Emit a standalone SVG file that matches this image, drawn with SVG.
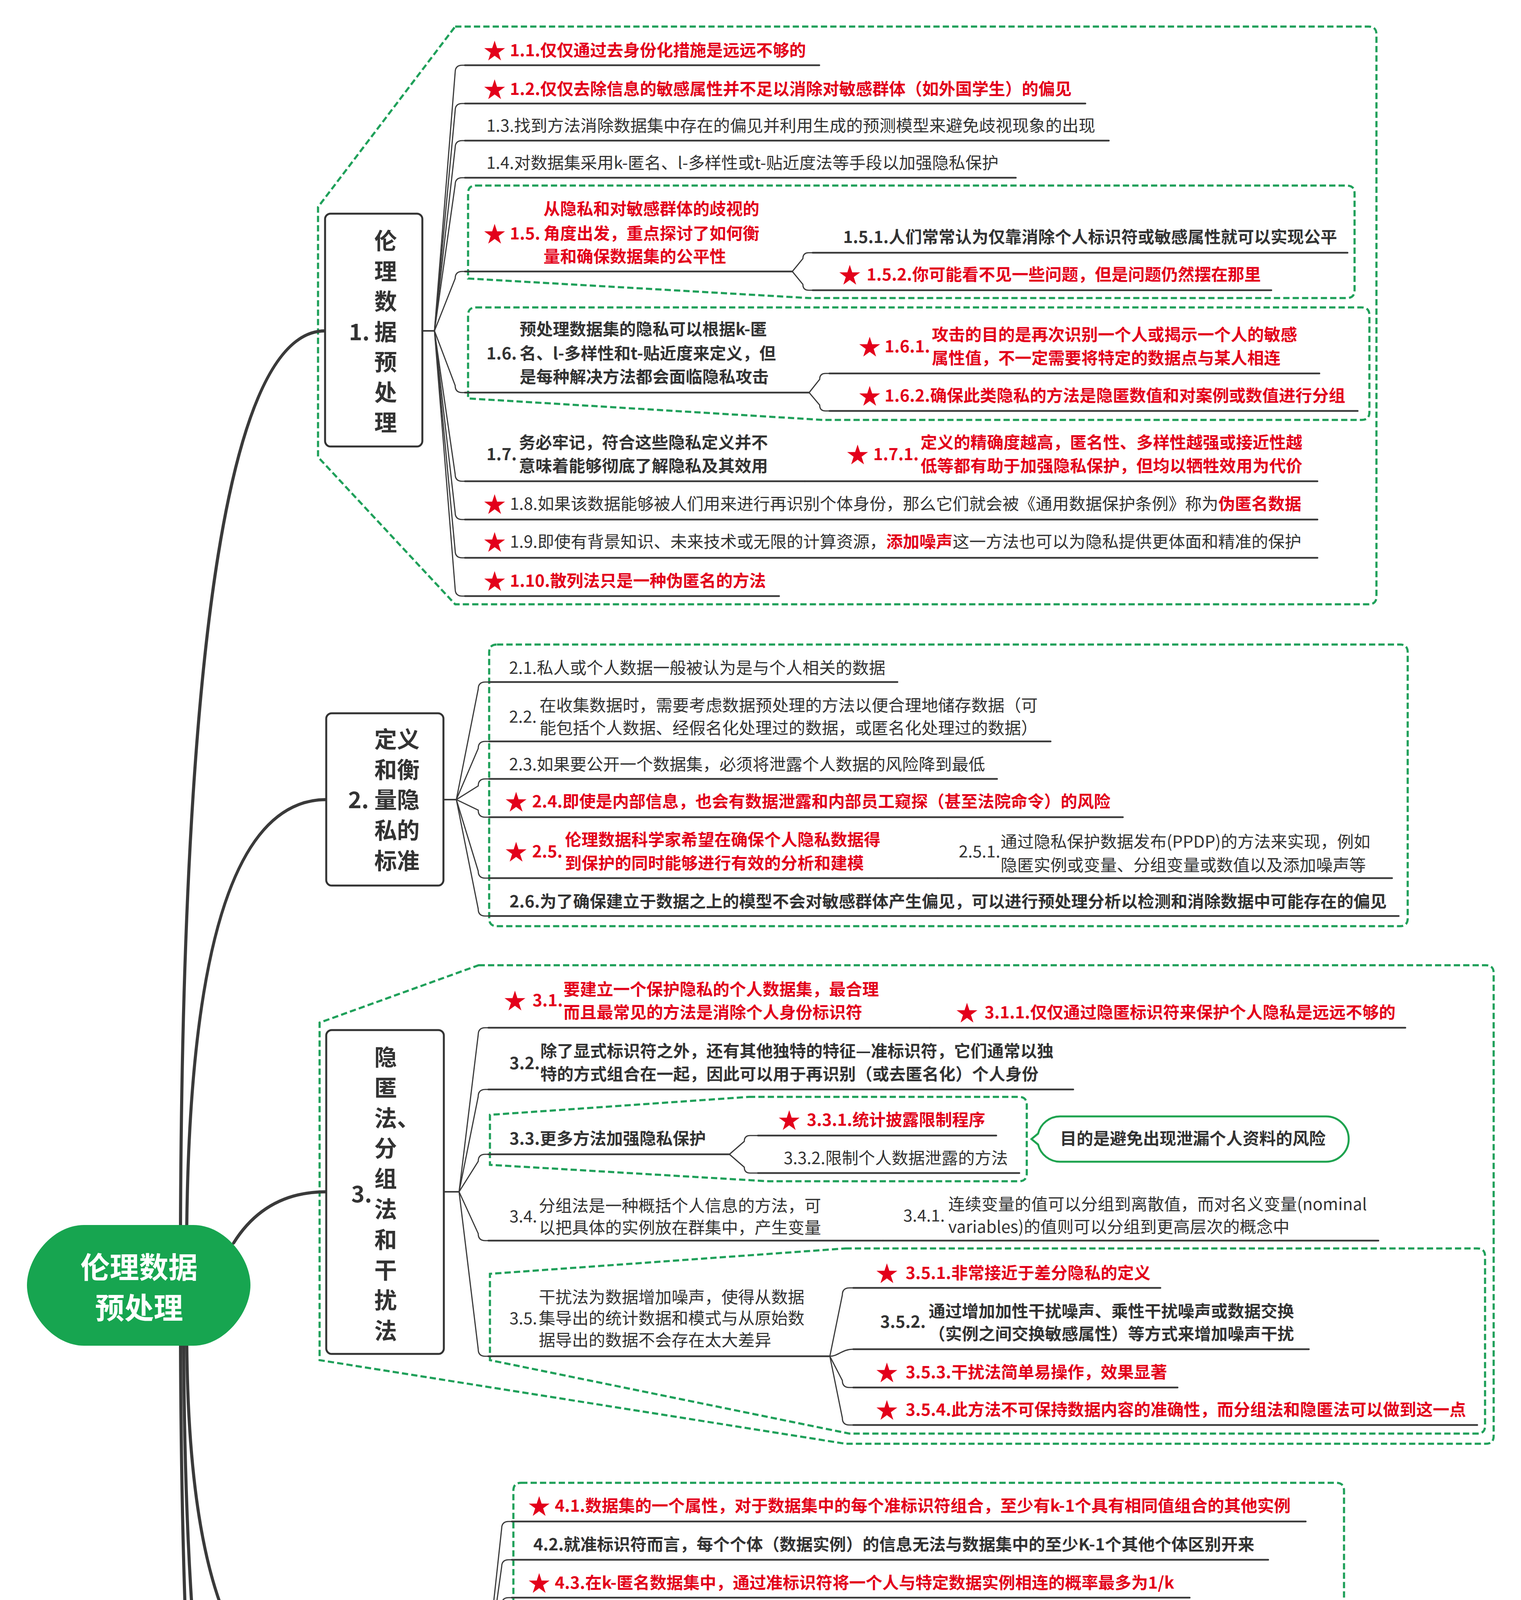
<svg xmlns="http://www.w3.org/2000/svg" xmlns:xlink="http://www.w3.org/1999/xlink" width="3893" height="6097" viewBox="0 0 3893 6097">
<defs>
<style>
text{font-family:"Noto Sans CJK SC","Noto Sans",sans-serif;}
.t{font-size:42.5px;fill:#333;}
.b{font-size:42.5px;font-weight:bold;fill:#333;}
.r{font-size:42.5px;font-weight:bold;fill:#e3001b;}
.tr{font-weight:bold;fill:#e3001b;}
.tn{font-weight:normal;fill:#333;}
.bt{font-size:58px;font-weight:bold;fill:#333;}
.bx{fill:#fff;stroke:#333;stroke-width:5;}
.ul{stroke:#3a3a3a;stroke-width:4.5;fill:none;stroke-linecap:round;}
.cn{stroke:#3a3a3a;stroke-width:3;fill:none;}
.mc{stroke:#3a3a3a;stroke-width:8;fill:none;stroke-linecap:round;}
.bd{fill:none;stroke:#1fa05a;stroke-width:5.5;stroke-dasharray:16 8;}
</style>
<path id="star" d="M0,-28 L6.29,-8.66 L26.63,-8.65 L10.18,3.31 L16.46,22.65 L0,10.7 L-16.46,22.65 L-10.18,3.31 L-26.63,-8.65 L-6.29,-8.66 Z" fill="#e3001b"/>
</defs>
<rect width="3893" height="6097" fill="#fff"/>
<text x="3476" y="5985" font-size="150" fill="#f3f3f3" stroke="#e2e2e2" stroke-width="2" style="font-family:'Noto Sans CJK SC',sans-serif">躺柒</text>

<g id="boundaries">
<path class="bd" d="M1165,68 H3503 Q3523,68 3523,88 V1527 Q3523,1547 3503,1547 H1165 L814,1170 V530 Z"/>
<path class="bd" d="M1218,475 H3447 Q3467,475 3467,495 V743 Q3467,763 3447,763 H2071 L1198,713 V495 Q1198,475 1218,475 Z"/>
<path class="bd" d="M1218,787 H3485 Q3505,787 3505,807 V1055 Q3505,1075 3485,1075 H2106 L1198,1020 V807 Q1198,787 1218,787 Z"/>
<path class="bd" d="M1272,1650 H3583 Q3603,1650 3603,1670 V2351 Q3603,2371 3583,2371 H1272 Q1252,2371 1252,2351 V1670 Q1252,1650 1272,1650 Z"/>
<path class="bd" d="M1225,2471 H3803 Q3823,2471 3823,2491 V3676 Q3823,3696 3803,3696 H2164 L818,3482 V2618 Z"/>
<path class="bd" d="M1917,2808 H2608 Q2628,2808 2628,2828 V3004 Q2628,3024 2608,3024 H1966 L1254,2982 V2854 Z"/>
<path class="bd" d="M2164,3196 H3781 Q3801,3196 3801,3216 V3650 Q3801,3670 3781,3670 H2174 L1254,3482 V3261 Z"/>
<path class="bd" d="M1334,3796 H3420 Q3440,3796 3440,3816 V4814 Q3440,4834 3420,4834 H1334 Q1314,4834 1314,4814 V3816 Q1314,3796 1334,3796 Z"/>
<path class="bd" d="M1400,4937 H2654 Q2674,4937 2674,4957 V5239 Q2674,5259 2654,5259 H838 Q818,5259 818,5239 V5007 Z"/>
<path class="bd" d="M1780,5393 H3395 Q3415,5393 3415,5413 V6010 Q3415,6030 3395,6030 H1779 L1391,5951 V5445 Z"/>
<path class="bd" d="M1702,5408 H3369 Q3389,5408 3389,5428 V5637 Q3389,5657 3369,5657 H1813 L1414,5578 V5462 Z"/>
<path class="bd" d="M1804,5676 H3153 Q3173,5676 3173,5696 V5987 Q3173,6007 3153,6007 H1813 L1414,5931 V5815 Z"/>
</g>

<g id="connectors">
<path class="mc" d="M462,3140 Q470,847 832,847"/>
<path class="mc" d="M478,3140 Q490,2047 835,2047"/>
<path class="mc" d="M598,3182 Q680,3051 835,3051"/>
<path class="mc" d="M478,3440 Q486,4354 835,4354"/>
<path class="mc" d="M470,3440 Q478,5132 835,5132"/>
<path class="mc" d="M462,3440 Q470,5733 835,5733"/>

<path class="cn" d="M1081,847 H1112 L1165,185 Q1165,167 1183,167 H1192"/>
<path class="cn" d="M1081,847 H1112 L1165,283 Q1165,265 1183,265 H1192"/>
<path class="cn" d="M1081,847 H1112 L1165,378 Q1165,360 1183,360 H1192"/>
<path class="cn" d="M1081,847 H1112 L1165,473 Q1165,455 1183,455 H1192"/>
<path class="cn" d="M1081,847 H1112 L1165,713 Q1165,695 1183,695 H1192"/>
<path class="cn" d="M1081,847 H1112 L1165,987 Q1165,1005 1183,1005 H1192"/>
<path class="cn" d="M1081,847 H1112 L1165,1214 Q1165,1232 1183,1232 H1192"/>
<path class="cn" d="M1081,847 H1112 L1165,1312 Q1165,1330 1183,1330 H1192"/>
<path class="cn" d="M1081,847 H1112 L1165,1410 Q1165,1428 1183,1428 H1192"/>
<path class="cn" d="M1081,847 H1112 L1165,1508 Q1165,1526 1183,1526 H1192"/>
<path class="cn" d="M2028,695 L2055,662 Q2055,647 2070,647 H2080"/>
<path class="cn" d="M2028,695 L2055,728 Q2055,743 2070,743 H2080"/>
<path class="cn" d="M2071,1005 L2098,971 Q2098,956 2113,956 H2123"/>
<path class="cn" d="M2071,1005 L2098,1037 Q2098,1052 2113,1052 H2123"/>

<path class="cn" d="M1135,2047 H1168 L1224,1764 Q1224,1746 1242,1746 H1252"/>
<path class="cn" d="M1135,2047 H1168 L1224,1916 Q1224,1898 1242,1898 H1252"/>
<path class="cn" d="M1135,2047 H1168 L1224,2012 Q1224,1994 1242,1994 H1252"/>
<path class="cn" d="M1135,2047 H1168 L1224,2074 Q1224,2092 1242,2092 H1252"/>
<path class="cn" d="M1135,2047 H1168 L1224,2230 Q1224,2248 1242,2248 H1252"/>
<path class="cn" d="M1135,2047 H1168 L1224,2327 Q1224,2345 1242,2345 H1252"/>

<path class="cn" d="M1136,3051 H1175 L1224,2649 Q1224,2631 1242,2631 H1250"/>
<path class="cn" d="M1136,3051 H1175 L1224,2807 Q1224,2789 1242,2789 H1250"/>
<path class="cn" d="M1136,3051 H1175 L1224,2973 Q1224,2955 1242,2955 H1250"/>
<path class="cn" d="M1136,3051 H1175 L1224,3158 Q1224,3176 1242,3176 H1250"/>
<path class="cn" d="M1136,3051 H1175 L1224,3454 Q1224,3472 1242,3472 H1250"/>
<path class="cn" d="M1867,2955 L1905,2922 Q1905,2907 1920,2907 H1940"/>
<path class="cn" d="M1867,2955 L1905,2988 Q1905,3003 1920,3003 H1940"/>
<path class="cn" d="M2124,3472 L2156,3315 Q2156,3297 2174,3297 H2184"/>
<path class="cn" d="M2124,3472 C2145,3472 2155,3454 2184,3454"/>
<path class="cn" d="M2124,3472 L2156,3534 Q2156,3552 2174,3552 H2184"/>
<path class="cn" d="M2124,3472 L2156,3630 Q2156,3648 2174,3648 H2184"/>

<path class="cn" d="M1197,4354 H1236 L1284,3913 Q1284,3895 1302,3895 H1310"/>
<path class="cn" d="M1197,4354 H1236 L1284,4011 Q1284,3993 1302,3993 H1310"/>
<path class="cn" d="M1197,4354 H1236 L1284,4108 Q1284,4090 1302,4090 H1310"/>
<path class="cn" d="M1197,4354 H1236 L1284,4203 Q1284,4185 1302,4185 H1310"/>
<path class="cn" d="M1197,4354 H1236 C1262,4354 1270,4341 1310,4341"/>
<path class="cn" d="M1197,4354 H1236 L1284,4541 Q1284,4559 1302,4559 H1310"/>
<path class="cn" d="M1197,4354 H1236 L1284,4697 Q1284,4715 1302,4715 H1310"/>
<path class="cn" d="M1197,4354 H1236 L1284,4795 Q1284,4813 1302,4813 H1310"/>

<path class="cn" d="M1319,5132 H1357 L1392,5055 Q1392,5037 1410,5037 H1417"/>
<path class="cn" d="M1319,5132 H1417"/>
<path class="cn" d="M1319,5132 H1357 L1392,5210 Q1392,5228 1410,5228 H1417"/>

<path class="cn" d="M1297,5733 H1334 L1384,5577 Q1384,5559 1402,5559 H1409"/>
<path class="cn" d="M1297,5733 H1334 L1384,5889 Q1384,5907 1402,5907 H1409"/>
<path class="cn" d="M1762,5559 L1788,5498 Q1788,5483 1803,5483 H1810"/>
<path class="cn" d="M1762,5559 L1792,5619 Q1792,5634 1807,5634 H1822"/>
<path class="cn" d="M1762,5907 L1792,5847 Q1792,5832 1807,5832 H1822"/>
<path class="cn" d="M1762,5907 L1792,5969 Q1792,5984 1807,5984 H1822"/>
</g>

<g id="main">
<path d="M215,3136 H495 C575,3136 641,3220 641,3290 C641,3360 575,3445 495,3445 H215 C135,3445 69,3360 69,3290 C69,3220 135,3136 215,3136 Z" fill="#17a550"/>
<text x="356" y="3272" text-anchor="middle" font-size="75" font-weight="bold" fill="#fff">伦理数据</text>
<text x="356" y="3376" text-anchor="middle" font-size="75" font-weight="bold" fill="#fff">预处理</text>
</g>

<g id="b1">
<rect class="bx" x="832" y="547" width="249" height="596" rx="14"/>
<text class="bt" x="893" y="871">1.</text>
<text class="bt" x="958" y="638">伦</text>
<text class="bt" x="958" y="716">理</text>
<text class="bt" x="958" y="793">数</text>
<text class="bt" x="958" y="871">据</text>
<text class="bt" x="958" y="948">预</text>
<text class="bt" x="958" y="1026">处</text>
<text class="bt" x="958" y="1103">理</text>
</g>

<g id="n1_1"><use href="#star" x="1266" y="132"/><text class="r" x="1305" y="144">1.1.仅仅通过去身份化措施是远远不够的</text><path class="ul" d="M1190,167 H2097"/></g>
<g id="n1_2"><use href="#star" x="1266" y="231"/><text class="r" x="1305" y="243">1.2.仅仅去除信息的敏感属性并不足以消除对敏感群体（如外国学生）的偏见</text><path class="ul" d="M1190,265 H2778"/></g>
<g id="n1_3"><text class="t" x="1245" y="337">1.3.找到方法消除数据集中存在的偏见并利用生成的预测模型来避免歧视现象的出现</text><path class="ul" d="M1190,360 H2838"/></g>
<g id="n1_4"><text class="t" x="1245" y="432">1.4.对数据集采用k-匿名、l-多样性或t-贴近度法等手段以加强隐私保护</text><path class="ul" d="M1190,455 H2600"/></g>
<g id="n1_5"><use href="#star" x="1266" y="601"/><text class="r" x="1305" y="613">1.5.</text><text class="r" x="1391" y="550">从隐私和对敏感群体的歧视的</text><text class="r" x="1391" y="613">角度出发，重点探讨了如何衡</text><text class="r" x="1391" y="672">量和确保数据集的公平性</text><path class="ul" d="M1190,695 H2028"/></g>
<g id="n1_5_1"><text class="b" x="2158" y="622">1.5.1.人们常常认为仅靠消除个人标识符或敏感属性就可以实现公平</text><path class="ul" d="M2080,647 H3449"/></g>
<g id="n1_5_2"><use href="#star" x="2175" y="706"/><text class="r" x="2218" y="718">1.5.2.你可能看不见一些问题，但是问题仍然摆在那里</text><path class="ul" d="M2080,743 H3254"/></g>
<g id="n1_6"><text class="b" x="1245" y="920">1.6.</text><text class="b" x="1330" y="858">预处理数据集的隐私可以根据k-匿</text><text class="b" x="1330" y="920">名、l-多样性和t-贴近度来定义，但</text><text class="b" x="1330" y="980">是每种解决方法都会面临隐私攻击</text><path class="ul" d="M1190,1005 H2071"/></g>
<g id="n1_6_1"><use href="#star" x="2226" y="890"/><text class="r" x="2264" y="902">1.6.1.</text><text class="r" x="2385" y="872">攻击的目的是再次识别一个人或揭示一个人的敏感</text><text class="r" x="2385" y="932">属性值，不一定需要将特定的数据点与某人相连</text><path class="ul" d="M2123,956 H3377"/></g>
<g id="n1_6_2"><use href="#star" x="2226" y="1016"/><text class="r" x="2264" y="1028">1.6.2.确保此类隐私的方法是隐匿数值和对案例或数值进行分组</text><path class="ul" d="M2123,1052 H3475"/></g>
<g id="n1_7"><text class="b" x="1245" y="1178">1.7.</text><text class="b" x="1328" y="1148">务必牢记，符合这些隐私定义并不</text><text class="b" x="1328" y="1208">意味着能够彻底了解隐私及其效用</text><path class="ul" d="M1190,1232 H2060"/></g>
<g id="n1_7_1"><use href="#star" x="2195" y="1166"/><text class="r" x="2235" y="1178">1.7.1.</text><text class="r" x="2356" y="1148">定义的精确度越高，匿名性、多样性越强或接近性越</text><text class="r" x="2356" y="1208">低等都有助于加强隐私保护，但均以牺牲效用为代价</text><path class="ul" d="M2060,1232 H3372"/></g>
<g id="n1_8"><use href="#star" x="1266" y="1293"/><text class="t" x="1305" y="1305">1.8.如果该数据能够被人们用来进行再识别个体身份，那么它们就会被《通用数据保护条例》称为<tspan class="tr">伪匿名数据</tspan></text><path class="ul" d="M1190,1330 H3372"/></g>
<g id="n1_9"><use href="#star" x="1266" y="1390"/><text class="t" x="1305" y="1402">1.9.即使有背景知识、未来技术或无限的计算资源，<tspan class="tr">添加噪声</tspan>这一方法也可以为隐私提供更体面和精准的保护</text><path class="ul" d="M1190,1428 H3372"/></g>
<g id="n1_10"><use href="#star" x="1266" y="1490"/><text class="r" x="1305" y="1502">1.10.散列法只是一种伪匿名的方法</text><path class="ul" d="M1190,1526 H1994"/></g>

<g id="b2">
<rect class="bx" x="835" y="1826" width="300" height="441" rx="14"/>
<text class="bt" x="891" y="2069">2.</text>
<text class="bt" x="958" y="1914">定义</text>
<text class="bt" x="958" y="1992">和衡</text>
<text class="bt" x="958" y="2069">量隐</text>
<text class="bt" x="958" y="2147">私的</text>
<text class="bt" x="958" y="2225">标准</text>
</g>
<g id="n2_1"><text class="t" x="1303" y="1725">2.1.私人或个人数据一般被认为是与个人相关的数据</text><path class="ul" d="M1252,1746 H2297"/></g>
<g id="n2_2"><text class="t" x="1303" y="1850">2.2.</text><text class="t" x="1381" y="1821">在收集数据时，需要考虑数据预处理的方法以便合理地储存数据（可</text><text class="t" x="1381" y="1879">能包括个人数据、经假名化处理过的数据，或匿名化处理过的数据）</text><path class="ul" d="M1252,1898 H2689"/></g>
<g id="n2_3"><text class="t" x="1303" y="1972">2.3.如果要公开一个数据集，必须将泄露个人数据的风险降到最低</text><path class="ul" d="M1252,1994 H2552"/></g>
<g id="n2_4"><use href="#star" x="1321" y="2055"/><text class="r" x="1362" y="2067">2.4.即使是内部信息，也会有数据泄露和内部员工窥探（甚至法院命令）的风险</text><path class="ul" d="M1252,2092 H2874"/></g>
<g id="n2_5"><use href="#star" x="1321" y="2183"/><text class="r" x="1362" y="2195">2.5.</text><text class="r" x="1446" y="2165">伦理数据科学家希望在确保个人隐私数据得</text><text class="r" x="1446" y="2225">到保护的同时能够进行有效的分析和建模</text><path class="ul" d="M1252,2248 H2400"/></g>
<g id="n2_5_1"><text class="t" x="2454" y="2195">2.5.1.</text><text class="t" x="2561" y="2170">通过隐私保护数据发布(PPDP)的方法来实现，例如</text><text class="t" x="2561" y="2230">隐匿实例或变量、分组变量或数值以及添加噪声等</text><path class="ul" d="M2400,2248 H3563"/></g>
<g id="n2_6"><text class="b" x="1304" y="2323">2.6.为了确保建立于数据之上的模型不会对敏感群体产生偏见，可以进行预处理分析以检测和消除数据中可能存在的偏见</text><path class="ul" d="M1252,2345 H3580"/></g>

<g id="b3">
<rect class="bx" x="835" y="2637" width="301" height="829" rx="14"/>
<text class="bt" x="899" y="3078">3.</text>
<text class="bt" x="958" y="2728">隐</text>
<text class="bt" x="958" y="2806">匿</text>
<text class="bt" x="958" y="2884">法、</text>
<text class="bt" x="958" y="2961">分</text>
<text class="bt" x="958" y="3039">组</text>
<text class="bt" x="958" y="3117">法</text>
<text class="bt" x="958" y="3195">和</text>
<text class="bt" x="958" y="3273">干</text>
<text class="bt" x="958" y="3350">扰</text>
<text class="bt" x="958" y="3428">法</text>
</g>
<g id="n3_1"><use href="#star" x="1318" y="2564"/><text class="r" x="1363" y="2576">3.1.</text><text class="r" x="1442" y="2548">要建立一个保护隐私的个人数据集，最合理</text><text class="r" x="1442" y="2607">而且最常见的方法是消除个人身份标识符</text><path class="ul" d="M1250,2631 H2380"/></g>
<g id="n3_1_1"><use href="#star" x="2475" y="2595"/><text class="r" x="2520" y="2607">3.1.1.仅仅通过隐匿标识符来保护个人隐私是远远不够的</text><path class="ul" d="M2380,2631 H3597"/></g>
<g id="n3_2"><text class="b" x="1304" y="2737">3.2.</text><text class="b" x="1383" y="2706">除了显式标识符之外，还有其他独特的特征—准标识符，它们通常以独</text><text class="b" x="1383" y="2765">特的方式组合在一起，因此可以用于再识别（或去匿名化）个人身份</text><path class="ul" d="M1250,2789 H2747"/></g>
<g id="n3_3"><text class="b" x="1304" y="2930">3.3.更多方法加强隐私保护</text><path class="ul" d="M1250,2955 H1867"/></g>
<g id="n3_3_1"><use href="#star" x="2020" y="2870"/><text class="r" x="2065" y="2882">3.3.1.统计披露限制程序</text><path class="ul" d="M1940,2907 H2550"/></g>
<g id="n3_3_2"><text class="t" x="2006" y="2980">3.3.2.限制个人数据泄露的方法</text><path class="ul" d="M1940,3003 H2609"/></g>
<g id="n3_3_s"><path d="M2713,2858 H3394 A58,58 0 0 1 3394,2974 H2713 A58,58 0 0 1 2657,2930 L2640,2916 L2657,2902 A58,58 0 0 1 2713,2858 Z" fill="#fff" stroke="#1ea34f" stroke-width="5"/><text class="b" x="3053" y="2930" text-anchor="middle">目的是避免出现泄漏个人资料的风险</text></g>
<g id="n3_4"><text class="t" x="1304" y="3129">3.4.</text><text class="t" x="1379" y="3102">分组法是一种概括个人信息的方法，可</text><text class="t" x="1379" y="3158">以把具体的实例放在群集中，产生变量</text><path class="ul" d="M1250,3176 H2260"/></g>
<g id="n3_4_1"><text class="t" x="2312" y="3127">3.4.1.</text><text class="t" x="2427" y="3098">连续变量的值可以分组到离散值，而对名义变量(nominal</text><text class="t" x="2427" y="3156">variables)的值则可以分组到更高层次的概念中</text><path class="ul" d="M2260,3176 H3528"/></g>
<g id="n3_5"><text class="t" x="1304" y="3390">3.5.</text><text class="t" x="1379" y="3336">干扰法为数据增加噪声，使得从数据</text><text class="t" x="1379" y="3390">集导出的统计数据和模式与从原始数</text><text class="t" x="1379" y="3446">据导出的数据不会存在太大差异</text><path class="ul" d="M1250,3472 H2124"/></g>
<g id="n3_5_1"><use href="#star" x="2270" y="3262"/><text class="r" x="2318" y="3274">3.5.1.非常接近于差分隐私的定义</text><path class="ul" d="M2184,3297 H2970"/></g>
<g id="n3_5_2"><text class="b" x="2253" y="3399">3.5.2.</text><text class="b" x="2377" y="3372">通过增加加性干扰噪声、乘性干扰噪声或数据交换</text><text class="b" x="2377" y="3430">（实例之间交换敏感属性）等方式来增加噪声干扰</text><path class="ul" d="M2184,3454 H3350"/></g>
<g id="n3_5_3"><use href="#star" x="2270" y="3516"/><text class="r" x="2318" y="3528">3.5.3.干扰法简单易操作，效果显著</text><path class="ul" d="M2184,3552 H3014"/></g>
<g id="n3_5_4"><use href="#star" x="2270" y="3612"/><text class="r" x="2318" y="3624">3.5.4.此方法不可保持数据内容的准确性，而分组法和隐匿法可以做到这一点</text><path class="ul" d="M2184,3648 H3781"/></g>

<g id="b4">
<rect class="bx" x="835" y="4287" width="362" height="134" rx="14"/>
<text class="bt" x="892" y="4378">4.k-匿名</text>
</g>
<g id="n4_1"><use href="#star" x="1380" y="3858"/><text class="r" x="1420" y="3870">4.1.数据集的一个属性，对于数据集中的每个准标识符组合，至少有k-1个具有相同值组合的其他实例</text><path class="ul" d="M1310,3895 H3342"/></g>
<g id="n4_2"><text class="b" x="1365" y="3969">4.2.就准标识符而言，每个个体（数据实例）的信息无法与数据集中的至少K-1个其他个体区别开来</text><path class="ul" d="M1310,3993 H3246"/></g>
<g id="n4_3"><use href="#star" x="1380" y="4055"/><text class="r" x="1420" y="4067">4.3.在k-匿名数据集中，通过准标识符将一个人与特定数据实例相连的概率最多为1/k</text><path class="ul" d="M1310,4090 H3045"/></g>
<g id="n4_4"><text class="t" x="1365" y="4162">4.4.如果决策错误会导致敏感数据泄露，或不必要的信息损失</text><path class="ul" d="M1310,4185 H2528"/></g>
<g id="n4_5"><use href="#star" x="1380" y="4277"/><text class="r" x="1420" y="4289">4.5.</text><text class="r" x="1503" y="4258">一个数据集可以自动转化为K-匿名数据集<tspan class="tn">，我们可以使用多种算法</tspan></text><text class="t" x="1503" y="4317">通过隐匿法和分组法使其实现自动转化，比如斯威尼的Datafly系统</text><path class="ul" d="M1310,4341 H2786"/></g>
<g id="n4_6"><use href="#star" x="1380" y="4459"/><text class="r" x="1420" y="4471">4.6.</text><text class="r" x="1503" y="4413">匿名化方法的目标是：给定一个数据</text><text class="r" x="1503" y="4472">集，在保持信息损失最小的前提下以最</text><text class="r" x="1503" y="4533">快的速度获得该数据集的k-匿名版本</text><path class="ul" d="M1310,4559 H2380"/></g>
<g id="n4_6_1"><text class="b" x="2442" y="4474">4.6.1.</text><text class="b" x="2562" y="4413">据我们所知最佳的k-匿名版本属于NP难题，</text><text class="b" x="2562" y="4474">所以我们需要采用贪心算法(greedy</text><text class="b" x="2562" y="4533">algorithms)来实现大型数据集的转化</text><path class="ul" d="M2380,4559 H3423"/></g>
<g id="n4_7"><use href="#star" x="1380" y="4648"/><text class="r" x="1420" y="4660">4.7.</text><text class="r" x="1503" y="4629">这个定义使得预处理步骤中的隐私问题更加规范化，因为它保证了K-匿名数据集</text><text class="r" x="1503" y="4688">中的每个实例无法与至少k-1个其他实例区分，即使这些实例可与外部信息相连</text><path class="ul" d="M1310,4715 H3039"/></g>
<g id="n4_8"><text class="b" x="1365" y="4786">4.8.存在两种攻击行为，其目的在于对敏感属性数值进行识别</text><path class="ul" d="M1310,4813 H2533"/></g>

<g id="b5">
<rect class="bx" x="835" y="5027" width="484" height="213" rx="14"/>
<text class="bt" x="892" y="5154">5.</text>
<text class="bt" x="961" y="5118">同质性攻击</text>
<text class="bt" x="961" y="5194">和链接攻击</text>
</g>
<g id="n5_1"><use href="#star" x="1503" y="5000"/><text class="r" x="1546" y="5012">5.1.保护身份信息和保护敏感属性数值不同</text><path class="ul" d="M1417,5037 H2378"/></g>
<g id="n5_2"><text class="t" x="1486" y="5108">5.2.如果两个案例的敏感变量值相同，那么敏感值就会被泄露</text><path class="ul" d="M1417,5132 H2652"/></g>
<g id="n5_3"><use href="#star" x="1503" y="5193"/><text class="r" x="1546" y="5205">5.3.链接攻击需要更多的背景知识</text><path class="ul" d="M1417,5228 H2209"/></g>

<g id="b6">
<rect class="bx" x="835" y="5627" width="462" height="212" rx="14"/>
<text class="bt" x="892" y="5757">6.</text>
<text class="bt" x="961" y="5717">l-多样性，</text>
<text class="bt" x="961" y="5796">t-贴近度</text>
</g>
<g id="n6_1"><text class="t" x="1460" y="5539">6.1.l-多样性</text><path class="ul" d="M1409,5559 H1762"/></g>
<g id="n6_1_1"><use href="#star" x="1906" y="5449"/><text class="r" x="1948" y="5461">6.1.1.具有代表性的数值含有不同的定义，最简单的定义是其应具有唯一性</text><path class="ul" d="M1810,5483 H3372"/></g>
<g id="n6_1_2"><text class="t" x="1891" y="5587">6.1.2.</text><text class="t" x="2000" y="5552">数据集的一种属性，对于数据集中的每个等价</text><text class="t" x="2000" y="5614">类，敏感属性中至少有l个具有代表性的数值</text><path class="ul" d="M1822,5634 H2895"/></g>
<g id="n6_2"><text class="t" x="1460" y="5888">6.2.t-贴近度</text><path class="ul" d="M1409,5907 H1762"/></g>
<g id="n6_2_1"><text class="t" x="1891" y="5780">6.2.1.</text><text class="t" x="2003" y="5749">它要求每个等价类中的敏感属性的分布接近完整数据集中敏</text><text class="t" x="2003" y="5811">感属性的分布，贴近度由一些分布距离参数和一个阈值t定义</text><path class="ul" d="M1822,5832 H3156"/></g>
<g id="n6_2_2"><text class="t" x="1891" y="5933">6.2.2.</text><text class="t" x="2003" y="5904">这一做法会使数据更具普遍性，从而再次阐明</text><text class="t" x="2003" y="5962">了数据的效用与数据主体隐私之间的平衡关系</text><path class="ul" d="M1822,5984 H2907"/></g>
</svg>
